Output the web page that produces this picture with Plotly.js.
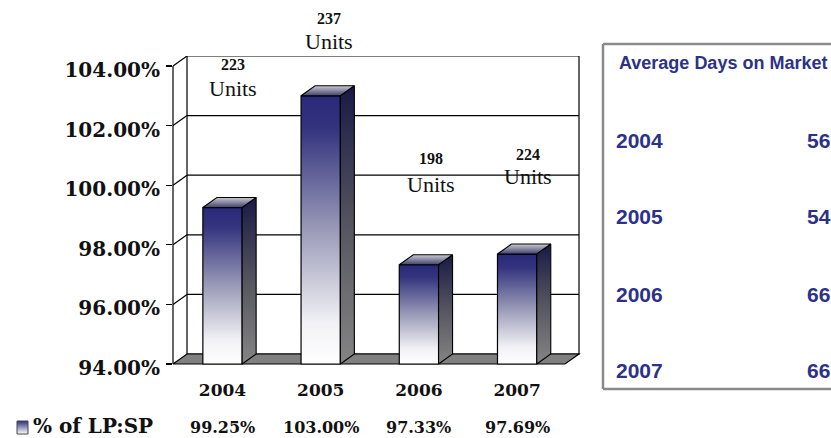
<!DOCTYPE html>
<html>
<head>
<meta charset="utf-8">
<script src="https://cdn.plot.ly/plotly-3.0.1.min.js"></script>
<style>
  html, body { margin: 0; padding: 0; background: #ffffff; }
  #chart { width: 831px; height: 438px; }
</style>
</head>
<body>
<svg width="0" height="0" style="position:absolute">
  <defs>
    <linearGradient id="frontGrad" x1="0" y1="0" x2="0" y2="1">
      <stop offset="0" stop-color="#29297a"/>
      <stop offset="0.12" stop-color="#33337f"/>
      <stop offset="0.5" stop-color="#9a9ab8"/>
      <stop offset="0.85" stop-color="#f2f2f6"/>
      <stop offset="1" stop-color="#ffffff"/>
    </linearGradient>
    <linearGradient id="legendGrad" x1="0" y1="0" x2="0" y2="1">
      <stop offset="0" stop-color="#2e2e7c"/>
      <stop offset="1" stop-color="#ffffff"/>
    </linearGradient>
  </defs>
</svg>
<div id="chart"></div>
<script>
// ---- data ----
const categories = ['2004', '2005', '2006', '2007'];
const lpSpPct    = [99.25, 103.00, 97.33, 97.69];
const unitsSold  = [223, 237, 198, 224];
const domYears   = ['2004', '2005', '2006', '2007'];
const domDays    = [56, 54, 66, 66];
const yTickVals  = [94, 96, 98, 100, 102, 104];
const legendName = '% of LP:SP';
const domTitle   = 'Average Days on Market';

// ---- geometry (styling only) ----
const Y0 = 94, YTOP = 104;
const DY = 0.3356;            // depth offset (vertical, data units)
const DX = 0.1426;            // depth offset (horizontal, data units)
const BW = 0.4;               // bar width
const XF = -0.504;            // front axis x
const XB = XF + DX;           // back wall left
const XRIGHT = 3.630;         // back wall right
const PADX = 0.0204, PADY = 0.067;
const ML = 173, MT = 56, PW = 408, PH = 310;
const px2px = px => (px - ML) / PW;              // pixel -> paper x
const py2py = py => (MT + PH - py) / PH;         // pixel -> paper y

const serifNum = 'DejaVu Serif';
const navy = '#2c3189';

// ---- traces ----
const xs = categories.map((c, i) => i);
const traces = [];
traces.push({
  type: 'bar', x: xs, y: lpSpPct.map(v => v - Y0), base: Y0, width: BW,
  marker: { color: '#8a8aaa', line: { color: '#000', width: 1.2 } },
  hoverinfo: 'skip', showlegend: false, name: legendName
});
lpSpPct.forEach((v, i) => {
  const xr = i + BW / 2;
  traces.push({
    type: 'scatter', mode: 'lines', fill: 'toself', hoverinfo: 'skip', showlegend: false,
    x: [xr, xr, xr + DX, xr + DX, xr],
    y: [Y0, v, v + DY, Y0 + DY, Y0],
    line: { color: '#000', width: 1.1 },
    fillgradient: { type: 'vertical', colorscale: [[0, '#858585'], [0.5, '#55555f'], [1, '#191946']] }
  });
  const xl = i - BW / 2;
  traces.push({
    type: 'scatter', mode: 'lines', fill: 'toself', hoverinfo: 'skip', showlegend: false,
    x: [xl, xr, xr + DX, xl + DX, xl],
    y: [v, v, v + DY, v + DY, v],
    line: { color: '#000', width: 1.1 },
    fillgradient: { type: 'vertical', colorscale: [[0, '#40406e'], [1, '#cacad2']] }
  });
});

// ---- shapes ----
const shapes = [];
const ln = { color: '#000', width: 1.2 };
// back wall
shapes.push({ type: 'rect', xref: 'x', yref: 'y', x0: XB, x1: XRIGHT, y0: Y0 + DY, y1: YTOP + DY,
  line: ln, fillcolor: '#ffffff', layer: 'below' });
// back wall gridlines
yTickVals.filter(v => v > Y0 && v < YTOP).forEach(v => {
  shapes.push({ type: 'line', xref: 'x', yref: 'y', x0: XB, x1: XRIGHT, y0: v + DY, y1: v + DY, line: ln, layer: 'below' });
});
// left wall diagonals
yTickVals.filter(v => v > Y0).forEach(v => {
  shapes.push({ type: 'line', xref: 'x', yref: 'y', x0: XF, x1: XB, y0: v, y1: v + DY, line: ln, layer: 'below' });
});
// front axis line (paper x so it is not clipped)
shapes.push({ type: 'line', xref: 'paper', yref: 'y', x0: 0, x1: 0, y0: Y0, y1: YTOP, line: ln });
// floor
shapes.push({ type: 'path', xref: 'x', yref: 'y', layer: 'below',
  path: `M ${XF},${Y0} L ${XRIGHT - DX},${Y0} L ${XRIGHT},${Y0 + DY} L ${XB},${Y0 + DY} Z`,
  fillcolor: '#808080', line: ln });
// right panel border
const panelLine = { color: '#8a8a8a', width: 2.5 };
shapes.push({ type: 'line', xref: 'paper', yref: 'paper', x0: px2px(603), x1: px2px(603), y0: py2py(44), y1: py2py(389), line: panelLine });
shapes.push({ type: 'line', xref: 'paper', yref: 'paper', x0: px2px(603), x1: px2px(835), y0: py2py(44), y1: py2py(44), line: panelLine });
shapes.push({ type: 'line', xref: 'paper', yref: 'paper', x0: px2px(603), x1: px2px(835), y0: py2py(389), y1: py2py(389), line: panelLine });
// legend swatch
const legendIdx = shapes.length;
shapes.push({ type: 'rect', xref: 'paper', yref: 'paper', x0: px2px(17), x1: px2px(28), y0: py2py(421), y1: py2py(434),
  fillcolor: '#8a8aaa', line: { color: '#444', width: 1 } });

// ---- annotations ----
const ann = [];
const unitPos = [ { dx: 10, yn: 64, yu: 88 }, { dx: 8, yn: 18, yu: 41 }, { dx: 12, yn: 158, yu: 184 }, { dx: 11, yn: 154, yu: 176 } ];
unitsSold.forEach((u, i) => {
  const p = unitPos[i];
  ann.push({ x: i, y: Y0, xref: 'x', yref: 'y', xshift: p.dx, yshift: 364 - p.yn, text: String(u), showarrow: false,
    xanchor: 'center', yanchor: 'middle', font: { family: 'Liberation Serif', size: 16, color: '#111', weight: 'bold' } });
  ann.push({ x: i, y: Y0, xref: 'x', yref: 'y', xshift: p.dx, yshift: 364 - p.yu, text: 'Units', showarrow: false,
    xanchor: 'center', yanchor: 'middle', font: { family: 'Liberation Serif', size: 22, color: '#111' } });
});
ann.push({ x: px2px(32), y: py2py(426), xref: 'paper', yref: 'paper', text: legendName, showarrow: false, borderpad: 0,
  xanchor: 'left', yanchor: 'middle', font: { family: serifNum, size: 20, color: '#111', weight: 'bold' } });
lpSpPct.forEach((v, i) => {
  ann.push({ x: i, y: py2py(427), xref: 'x', yref: 'paper', text: v.toFixed(2) + '%', showarrow: false, borderpad: 0,
    xanchor: 'center', yanchor: 'middle', font: { family: serifNum, size: 16, color: '#111', weight: 'bold' } });
});
ann.push({ x: px2px(617), y: py2py(63), xref: 'paper', yref: 'paper', text: domTitle, showarrow: false,
  xanchor: 'left', yanchor: 'middle', font: { family: 'Liberation Sans', size: 18, color: navy, weight: 'bold' } });
const rowY = [140, 217, 294, 370];
domYears.forEach((y, i) => {
  ann.push({ x: px2px(614), y: py2py(rowY[i]), xref: 'paper', yref: 'paper', text: y, showarrow: false,
    xanchor: 'left', yanchor: 'middle', font: { family: 'Liberation Sans', size: 21, color: navy, weight: 'bold' } });
  ann.push({ x: px2px(805), y: py2py(rowY[i]), xref: 'paper', yref: 'paper', text: String(domDays[i]), showarrow: false,
    xanchor: 'left', yanchor: 'middle', font: { family: 'Liberation Sans', size: 21, color: navy, weight: 'bold' } });
});

const layout = {
  width: 831, height: 438,
  margin: { l: ML, r: 831 - ML - PW, t: MT, b: 438 - MT - PH, pad: 0 },
  paper_bgcolor: '#ffffff', plot_bgcolor: 'rgba(0,0,0,0)',
  showlegend: false,
  xaxis: {
    range: [XF, XRIGHT + PADX], tickvals: xs, ticktext: categories,
    showgrid: false, zeroline: false, showline: false, ticks: '', ticklabelstandoff: 12,
    tickfont: { family: serifNum, size: 17, color: '#111', weight: 'bold' }, fixedrange: true
  },
  yaxis: {
    range: [Y0 - PADY, YTOP + DY], tickvals: yTickVals, ticktext: yTickVals.map(v => v.toFixed(2) + '%'),
    showgrid: false, zeroline: false, showline: false, ticks: 'outside', ticklen: 6, tickwidth: 1.2, tickcolor: '#000',
    ticklabelshift: 4, ticklabelstandoff: 2,
    tickfont: { family: serifNum, size: 20, color: '#111', weight: 'bold' }, fixedrange: true
  },
  shapes: shapes,
  annotations: ann
};

const gd = document.getElementById('chart');
Plotly.newPlot(gd, traces, layout, { staticPlot: true, displayModeBar: false }).then(() => {
  gd.querySelectorAll('.barlayer .point path').forEach(p => { p.style.fill = 'url(#frontGrad)'; });
  const sq = gd.querySelector('.shapelayer path[data-index="' + legendIdx + '"]');
  if (sq) sq.style.fill = 'url(#legendGrad)';
});
</script>
</body>
</html>
